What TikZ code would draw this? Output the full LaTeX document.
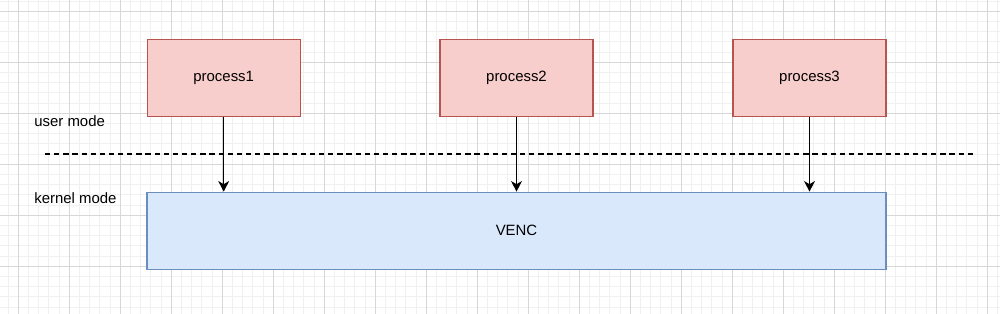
\documentclass[tikz,border=0pt]{standalone}
\usepackage{fontspec}
\setmainfont{Liberation Sans}
\usetikzlibrary{arrows.meta}

\definecolor{gridmajor}{RGB}{215,215,215}
\definecolor{gridminor}{RGB}{240,240,240}
\definecolor{procfill}{HTML}{F8CECC}
\definecolor{procline}{HTML}{B85450}
\definecolor{vencfill}{HTML}{DAE8FC}
\definecolor{vencline}{HTML}{6C8EBF}

\tikzset{
  procbox/.style={draw=procline, fill=procfill, line width=0.7pt, inner sep=0pt,
    minimum width=3.06cm, minimum height=1.54cm},
  vencbox/.style={draw=vencline, fill=vencfill, line width=0.7pt, inner sep=0pt,
    minimum width=14.78cm, minimum height=1.54cm},
  modelabel/.style={anchor=west, inner sep=0pt},
  callarrow/.style={line width=0.7pt, -{Stealth[length=6pt, width=6.2pt, inset=1.8pt]}}
}

\begin{document}
\begin{tikzpicture}[x=0.02cm, y=-0.02cm, font=\fontsize{8.5}{10}\selectfont]
          \useasboundingbox (0,0) rectangle (1000,314);
          \fill[white] (0,0) rectangle (1000,314);
          % grid
          \foreach \i in {-1,...,96}
            \draw[gridminor, line width=0.5pt] ({18.3+10.2*\i},0) -- ({18.3+10.2*\i},314);
          \foreach \j in {-1,...,29}
            \draw[gridminor, line width=0.5pt] (0,{11.3+10.2*\j}) -- (1000,{11.3+10.2*\j});
          \foreach \i in {0,...,19}
            \draw[gridmajor, line width=0.5pt] ({18.3+51*\i},0) -- ({18.3+51*\i},314);
          \foreach \j in {0,...,5}
            \draw[gridmajor, line width=0.5pt] (0,{11.3+51*\j}) -- (1000,{11.3+51*\j});
          % user / kernel boundary
          \coordinate (bleft) at (45,154);
          \coordinate (bright) at (975,154);
          \draw[line width=0.7pt, dash pattern=on 3pt off 2.2pt] (bleft) -- (bright);
          \node[modelabel] (user) at (34,121) {user mode};
          \node[modelabel] (kernel) at (34,198) {kernel mode};
          % processes
          \node[procbox] (proc1) at (223.7,77.8) {process1};
          \node[procbox] (proc2) at (516.5,77.8) {process2};
          \node[procbox] (proc3) at (809.5,77.8) {process3};
          % driver
          \node[vencbox] (venc) at (516.5,230.7) {VENC};
          % calls
          \draw[callarrow] (proc1.south) -- (proc1.south |- venc.north);
          \draw[callarrow] (proc2.south) -- (proc2.south |- venc.north);
          \draw[callarrow] (proc3.south) -- (proc3.south |- venc.north);
        \end{tikzpicture}
\end{document}
